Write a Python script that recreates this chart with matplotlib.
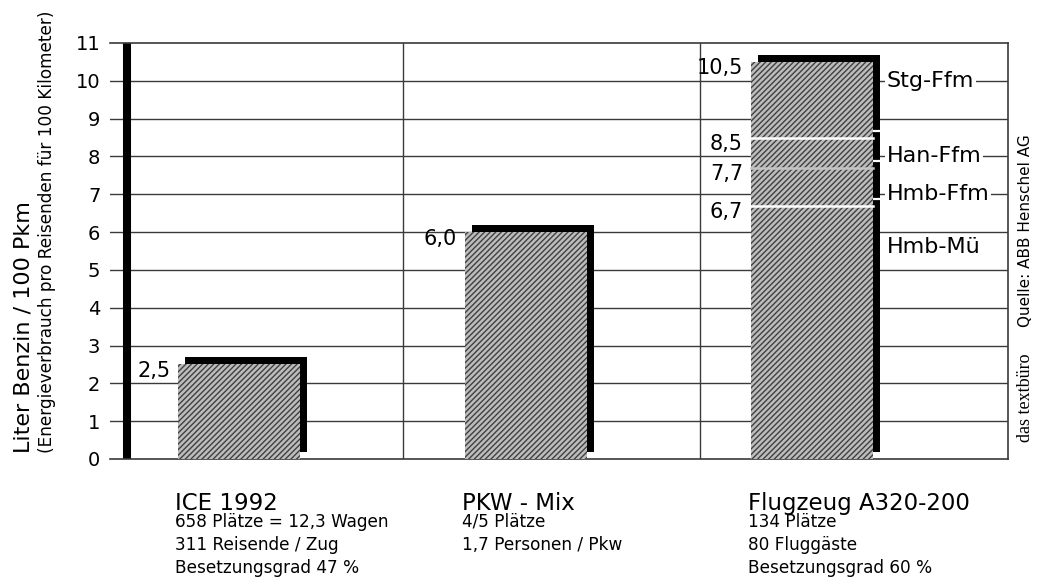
import numpy as np
import matplotlib
matplotlib.use("Agg")
import matplotlib.pyplot as plt
import matplotlib.transforms as mtransforms

# Energieverbrauch je Verkehrsmittel (Liter Benzin / 100 Pkm)
categories = ['ICE 1992', 'PKW - Mix', 'Flugzeug A320-200']
details = [
    ['658 Plätze = 12,3 Wagen', '311 Reisende / Zug', 'Besetzungsgrad 47 %'],
    ['4/5 Plätze', '1,7 Personen / Pkw'],
    ['134 Plätze', '80 Fluggäste', 'Besetzungsgrad 60 %'],
]
values = [2.5, 6.0, 10.5]

# Flugzeug nach Strecke
flight_steps = [6.7, 7.7, 8.5, 10.5]
routes = ['Hmb-Mü', 'Hmb-Ffm', 'Han-Ffm', 'Stg-Ffm']
route_label_y = [5.6, 7, 8, 10]

y_ticks = list(range(0, 12))


def fmt(v):
    return f'{v:.1f}'.replace('.', ',')


fig = plt.figure(figsize=(10.37, 5.81), dpi=100)
W, H = 1037, 581
ax = fig.add_axes([110 / W, (H - 459) / H, (1008 - 110) / W, (459 - 43) / H])

pos = np.arange(len(categories))
width = 0.426
ax.set_xlim(-0.452, 2.685)
ax.set_ylim(0, 11)

# Raster
for y in y_ticks[1:-1]:
    ax.axhline(y, color='#3a3a3a', lw=1.0, zorder=0.5)
for x in [0.571, 1.609]:
    ax.axvline(x, color='#3a3a3a', lw=1.0, zorder=0.5)
ax.axvline(-0.393, color='black', lw=5.8, solid_capstyle='butt', zorder=1)

for s in ['top', 'bottom', 'right']:
    ax.spines[s].set_color('#3a3a3a')
    ax.spines[s].set_linewidth(1.2)
ax.spines['left'].set_visible(False)
ax.set_xticks([])
ax.set_yticks(y_ticks)
ax.tick_params(axis='y', length=0, pad=7, labelsize=14)

# Schatten leicht nach rechts oben versetzt
shadow_tf = ax.transData + mtransforms.ScaledTranslation(0.07, 0.07, fig.dpi_scale_trans)
ax.bar(pos, values, width, color='black', transform=shadow_tf, zorder=2)
for v in flight_steps[:-1]:
    ax.plot([pos[2] - width / 2, pos[2] + width / 2], [v, v], color='white',
            lw=1.6, transform=shadow_tf, zorder=2.5)

# schraffierte Säulen
ax.bar(pos, values, width, color='#bcbcbc', linewidth=0, zorder=3)
plt.rcParams['hatch.linewidth'] = 1.0
ax.bar(pos, values, width, facecolor='none', edgecolor='#404040', hatch='//////',
       linewidth=0, zorder=3.2)

# Trennlinien im Flugzeug-Balken
line_cols = ['white', '#c4c4c4', 'white']
for v, c in zip(flight_steps[:-1], line_cols):
    ax.plot([pos[2] - width / 2, pos[2] + width / 2], [v, v], color=c, lw=1.8, zorder=4)

# Wertebeschriftung links neben den Säulen
for p, v in zip(pos[:2], values[:2]):
    ax.annotate(fmt(v), (p - width / 2, v), xytext=(-8, -7), textcoords='offset pixels',
                ha='right', va='center', fontsize=15, zorder=5)
for v in flight_steps:
    ax.annotate(fmt(v), (pos[2] - width / 2, v), xytext=(-8, -6), textcoords='offset pixels',
                ha='right', va='center', fontsize=15, zorder=5)

# Strecken rechts neben dem Flugzeug-Balken
for name, y in zip(routes, route_label_y):
    ax.annotate(name, (pos[2] + width / 2, y), xytext=(14, 0), textcoords='offset pixels',
                ha='left', va='center', fontsize=16, zorder=5,
                bbox=dict(boxstyle='square,pad=0.08', fc='white', ec='none'))

# Beschriftung unter den Säulen
for p, cat, lines in zip(pos, categories, details):
    ax.annotate(cat, (p - width / 2, 0), xytext=(-3, -51),
                textcoords='offset pixels', ha='left', va='baseline', fontsize=16.5)
    for i, t in enumerate(lines):
        ax.annotate(t, (p - width / 2, 0), xytext=(-3, -68 - 23 * i),
                    textcoords='offset pixels', ha='left', va='baseline', fontsize=12.2)

# Achsentitel
fig.text(24 / W, (H - 453) / H, 'Liter Benzin / 100 Pkm', rotation=90,
         ha='center', va='bottom', fontsize=16)
fig.text(47 / W, (H - 453) / H, '(Energieverbrauch pro Reisenden für 100 Kilometer)',
         rotation=90, ha='center', va='bottom', fontsize=12.2)

# Quelle
fig.text(1025 / W, (H - 231) / H, 'Quelle: ABB Henschel AG', rotation=90,
         ha='center', va='center', fontsize=11)
fig.text(1025 / W, (H - 398) / H, 'das textbüro', rotation=90,
         ha='center', va='center', fontsize=13, family='Liberation Serif')

fig.savefig('out.png', dpi=100, facecolor='white')
